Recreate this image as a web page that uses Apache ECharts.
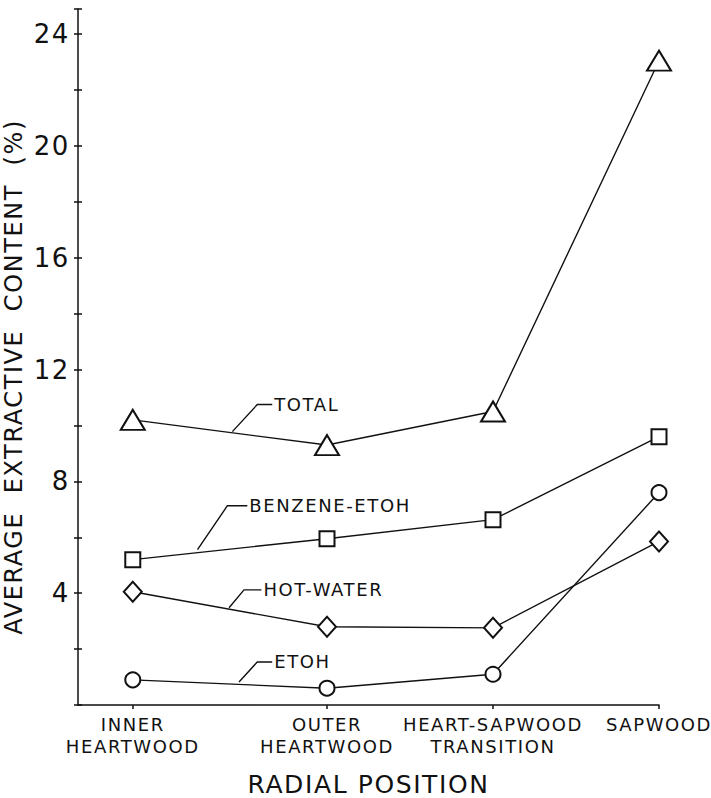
<!DOCTYPE html>
<html>
<head>
<meta charset="utf-8">
<script src="https://cdn.jsdelivr.net/npm/echarts@6/dist/echarts.min.js"></script>
<style>
html,body{margin:0;padding:0;background:#fff}
#c{width:711px;height:798px}
#c svg text{letter-spacing:1.6px}
</style>
</head>
<body>
<div id="c"></div>
<script>
const categories = ['INNER\nHEARTWOOD', 'OUTER\nHEARTWOOD', 'HEART-SAPWOOD\nTRANSITION', 'SAPWOOD'];
const positions = [0.33, 1.5, 2.5, 3.5];
const total = [10.2, 9.3, 10.5, 23.05];
const benzeneEtoh = [5.2, 5.95, 6.63, 9.6];
const hotWater = [4.05, 2.8, 2.76, 5.85];
const etoh = [0.9, 0.6, 1.1, 7.6];
const yTicks = [4, 8, 12, 16, 20, 24];

const leaderTotal = [[0.93, 9.78], [1.08, 10.75], [1.17, 10.75]];
const leaderBenzene = [[0.72, 5.56], [0.9, 7.13], [1.02, 7.13]];
const leaderHot = [[0.91, 3.48], [1.0, 4.12], [1.105, 4.12]];
const leaderEtoh = [[0.97, 0.82], [1.08, 1.54], [1.17, 1.54]];

const FONT = 'DejaVu Sans';
const INK = '#111';

function pts(vals) { return vals.map((v, i) => [positions[i], v]); }
function catFor(v) {
  const i = positions.findIndex(p => Math.abs(p - v) < 1e-6);
  return i >= 0 ? categories[i] : '';
}
function dataSeries(name, vals, symbol, size) {
  return {
    name, type: 'line', data: pts(vals), symbol, symbolSize: size,
    lineStyle: { color: INK, width: 1.4 },
    itemStyle: { color: '#fff', borderColor: INK, borderWidth: 2 },
    z: 3, animation: false
  };
}
function leader(name, coords) {
  return {
    name, type: 'line', data: coords, symbol: 'none',
    lineStyle: { color: INK, width: 1.4 },
    endLabel: { show: true, formatter: name, fontFamily: FONT, fontSize: 18, color: INK, distance: 2 },
    z: 2, animation: false, silent: true
  };
}

const chart = echarts.init(document.getElementById('c'), null, { renderer: 'svg' });
chart.setOption({
  backgroundColor: '#fff',
  grid: { left: 78, right: 52, top: 9, bottom: 93, containLabel: false, outerBoundsMode: 'none' },
  xAxis: {
    type: 'value', min: 0, max: 3.5,
    name: 'RADIAL POSITION', nameLocation: 'middle', nameGap: 67,
    nameTextStyle: { fontFamily: FONT, fontSize: 25, color: INK, verticalAlign: 'top' },
    axisLine: { lineStyle: { color: INK, width: 1.5 } },
    axisTick: { show: true, customValues: positions, length: 4, lineStyle: { color: INK, width: 1.5 } },
    axisLabel: { customValues: positions, formatter: catFor, fontFamily: FONT, fontSize: 18, color: INK, lineHeight: 22, margin: 8 },
    splitLine: { show: false }
  },
  yAxis: [{
    type: 'value', min: 0, max: 24.9, interval: 4,
    name: 'AVERAGE  EXTRACTIVE  CONTENT  (%)', nameLocation: 'middle', nameGap: 44,
    nameTextStyle: { fontFamily: FONT, fontSize: 24, color: INK, padding: [0, 40, 0, 0] },
    axisLine: { show: true, lineStyle: { color: INK, width: 1.5 } },
    axisTick: { show: true, length: 4, lineStyle: { color: INK, width: 1.5 } },
    minorTick: { show: true, splitNumber: 2, length: 4, lineStyle: { color: INK, width: 1.5 } },
    axisLabel: { customValues: yTicks, fontFamily: FONT, fontSize: 26, color: INK, margin: 8 },
    splitLine: { show: false }
  }, {
    type: 'value', min: 0, max: 24.9, interval: 4, position: 'left',
    axisLine: { show: false },
    axisTick: { show: true, inside: true, length: 4, lineStyle: { color: INK, width: 1.5 } },
    minorTick: { show: true, splitNumber: 2, length: 4, lineStyle: { color: INK, width: 1.5 } },
    axisLabel: { show: false },
    splitLine: { show: false }
  }],
  series: [
    leader('TOTAL', leaderTotal),
    leader('BENZENE-ETOH', leaderBenzene),
    leader('HOT-WATER', leaderHot),
    leader('ETOH', leaderEtoh),
    dataSeries('Total', total, 'triangle', [24, 20]),
    dataSeries('Benzene-EtOH', benzeneEtoh, 'rect', 15),
    dataSeries('Hot-water', hotWater, 'diamond', [18, 20]),
    dataSeries('EtOH', etoh, 'circle', 15)
  ]
});
</script>
</body>
</html>
